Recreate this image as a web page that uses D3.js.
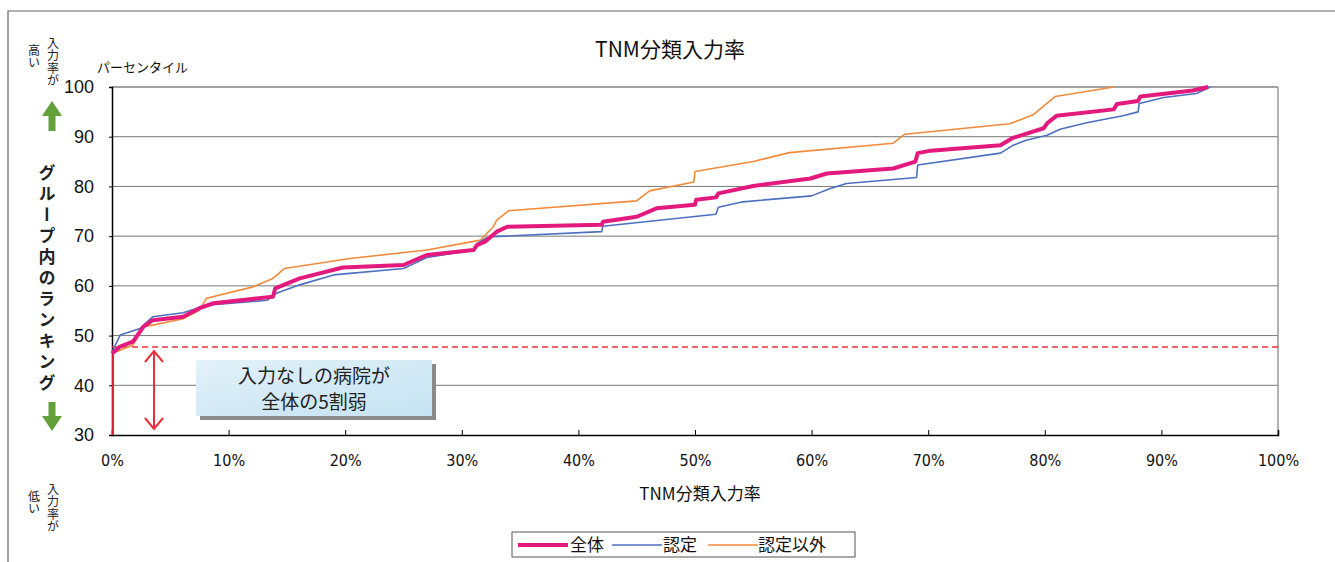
<!DOCTYPE html>
<html><head><meta charset="utf-8">
<script src="https://cdn.jsdelivr.net/npm/d3@7"></script>
<style>
html,body{margin:0;padding:0;background:#fff;}
svg{display:block;font-family:"Noto Sans CJK JP","Liberation Sans",sans-serif;}
</style></head>
<body><svg id="c" width="1335" height="562"></svg>
<script>
// ---- data ----
const seriesNames = ["全体", "認定", "認定以外"];
const allX = [0,0.7,1.8,2.7,3.5,6.1,7.5,8.7,13.8,14,16.1,19.8,25,27,31,31.3,32,33,33.9,42,42.1,45,46.7,50,50.1,51.8,52,55,59.9,61.3,67,68.9,69.1,70.2,76.2,77.2,79.9,80.2,81,85.9,86.2,88,88.2,92.7,94];
const allY = [46.4,47.8,48.8,51.8,53.1,53.8,55.5,56.5,57.8,59.5,61.5,63.7,64.2,66.2,67.2,68.2,68.9,70.9,71.9,72.3,72.9,73.9,75.6,76.3,77.3,77.8,78.6,80.1,81.6,82.6,83.6,85,86.7,87.2,88.3,89.7,91.7,92.7,94.2,95.5,96.6,97.2,98.1,99.3,100];
const ninX = [0,0.7,2.4,3.5,6.1,7.3,8.1,13.3,14.1,16.1,19,25,27,31,31.3,32,32.7,42,42.1,51.8,52,54.1,60,61.6,63,69,69.1,76.2,77.3,78.4,80.2,81.3,83.6,86.7,88,88.1,90.2,93,94.2];
const ninY = [46.7,50.1,51.4,53.8,54.6,55.5,56.1,57.1,58.5,60.2,62.2,63.5,65.7,67.2,68.5,69.5,69.9,70.9,72,74.4,75.8,76.9,78.1,79.6,80.6,81.8,84.3,86.7,88.3,89.3,90.3,91.5,92.8,94.2,95,96.7,97.9,98.7,100];
const othX = [0,1.8,2.7,3.5,6.1,7.5,8.1,12.1,13.8,14.8,20.4,27,31.6,32.7,33,34,45,46.1,49.9,50,55,58.1,67,68,77,79,80.9,85.9];
const othY = [46.4,48.1,51.8,52.1,53.4,55.1,57.5,59.8,61.5,63.5,65.5,67.2,69.2,71.9,73.2,75.1,77.1,79.1,80.9,83,85,86.8,88.7,90.5,92.6,94.4,98.1,100];
const yTicks = [30,40,50,60,70,80,90,100];
const xTicks = [0,10,20,30,40,50,60,70,80,90,100];
const noInputLevel = 47.7;
const seriesColors = ["#e3197e", "#4d6fbf", "#f28a3b"];
const seriesWidths = [4, 1.6, 1.6];

// ---- layout ----
const svg = d3.select("#c");
const L = 112, R = 1278, T = 87, B = 435;
const x = d3.scaleLinear().domain([0,100]).range([L,R]);
const y = d3.scaleLinear().domain([30,100]).range([B,T]);

// outer frame
svg.append("path").attr("d","M8,562 L8,11 L1335,11").attr("fill","none").attr("stroke","#666").attr("stroke-width",1.2);

// gridlines
svg.append("g").selectAll("line").data(yTicks.filter(d=>d>30)).join("line")
  .attr("x1",L).attr("x2",R).attr("y1",d=>y(d)).attr("y2",d=>y(d))
  .attr("stroke","#777").attr("stroke-width",1);
svg.append("line").attr("x1",R).attr("x2",R).attr("y1",T).attr("y2",B).attr("stroke","#999").attr("stroke-width",1.5);
svg.append("line").attr("x1",L).attr("x2",R).attr("y1",T).attr("y2",T).attr("stroke","#999").attr("stroke-width",1.5);

// axes
const yAxis = svg.append("g").attr("transform",`translate(${L},0)`)
  .call(d3.axisLeft(y).tickValues(yTicks).tickSize(3).tickPadding(15).tickFormat(d3.format("d")));
yAxis.select(".domain").attr("stroke","#000").attr("stroke-width",1.5);
yAxis.selectAll("text").attr("font-size",18).attr("font-family","Liberation Sans, Arial, sans-serif").attr("fill","#111");
const xAxis = svg.append("g").attr("transform",`translate(0,${B})`)
  .call(d3.axisBottom(x).tickValues(xTicks).tickSize(-5).tickPadding(20).tickFormat(d=>d+"%"));
xAxis.select(".domain").attr("stroke","#000").attr("stroke-width",1.5);
xAxis.selectAll("text").attr("font-size",16).attr("font-family","DejaVu Sans Condensed, Liberation Sans Narrow, sans-serif").attr("fill","#111");

// annotation: red vertical + dashed line
svg.append("line").attr("x1",x(0)+1).attr("x2",x(0)+1).attr("y1",y(30)).attr("y2",y(46.4)).attr("stroke","#e0203a").attr("stroke-width",2);
svg.append("line").attr("x1",x(0)).attr("x2",R).attr("y1",y(noInputLevel)).attr("y2",y(noInputLevel))
  .attr("stroke","#e8303a").attr("stroke-width",1.6).attr("stroke-dasharray","6,4");

// series lines
const line = d3.line().x(d=>x(d[0])).y(d=>y(d[1]));
const data = [d3.zip(allX,allY), d3.zip(ninX,ninY), d3.zip(othX,othY)];
[2,1,0].forEach(i=>{
  svg.append("path").datum(data[i]).attr("d",line).attr("fill","none")
    .attr("stroke",seriesColors[i]).attr("stroke-width",seriesWidths[i]).attr("stroke-linejoin","round");
});

// double arrow
const defs = svg.append("defs");
const ax = 154, ay1 = y(noInputLevel)+4, ay2 = y(30)-6;
svg.append("line").attr("x1",ax).attr("x2",ax).attr("y1",ay1).attr("y2",ay2).attr("stroke","#e8303a").attr("stroke-width",2);
svg.append("path").attr("d",`M${ax-9},${ay1+11} L${ax},${ay1} L${ax+9},${ay1+11}`).attr("fill","none").attr("stroke","#e8303a").attr("stroke-width",2);
svg.append("path").attr("d",`M${ax-9},${ay2-11} L${ax},${ay2} L${ax+9},${ay2-11}`).attr("fill","none").attr("stroke","#e8303a").attr("stroke-width",2);

// annotation box
const grad = defs.append("linearGradient").attr("id","bg").attr("x1","0").attr("y1","0").attr("x2","1").attr("y2","1");
grad.append("stop").attr("offset","0").attr("stop-color","#e2f1f9");
grad.append("stop").attr("offset","1").attr("stop-color","#c5e3f2");
svg.append("rect").attr("x",200).attr("y",364).attr("width",236).attr("height",56).attr("fill","#8a8a8a");
svg.append("rect").attr("x",196).attr("y",360).attr("width",236).attr("height",56).attr("fill","url(#bg)");
svg.append("text").attr("x",314).attr("y",383).attr("text-anchor","middle").attr("font-size",19).attr("fill","#222").text("入力なしの病院が");
svg.append("text").attr("x",314).attr("y",409).attr("text-anchor","middle").attr("font-size",19).attr("fill","#222").text("全体の5割弱");

// titles
svg.append("text").attr("x",670).attr("y",57).attr("text-anchor","middle").attr("font-size",21).attr("fill","#111").text("TNM分類入力率");
svg.append("text").attr("x",97).attr("y",72).attr("font-size",13).attr("fill","#111").text("パーセンタイル");
svg.append("text").attr("x",700).attr("y",500).attr("text-anchor","middle").attr("font-size",17).attr("fill","#111").text("TNM分類入力率");

// left side vertical labels
function vtext(tx, ty, str, size, weight, spacing){
  return svg.append("text").attr("x",tx).attr("y",ty).attr("font-size",size).attr("font-weight",weight||"normal")
    .attr("fill","#222").style("writing-mode","vertical-rl").style("letter-spacing",(spacing||0)+"px").text(str);
}
vtext(53,37,"入力率が",12,"normal",0.5);
vtext(34,44,"高い",12,"normal",0.5);
vtext(53,483,"入力率が",12,"normal",0.5);
vtext(34,490,"低い",12,"normal",0.5);
vtext(47,164,"グループ内のランキング",17,"bold",4);

// green arrows
const green = "#63a03a";
svg.append("path").attr("d","M52,101 L62,116 L55.5,116 L55.5,131 L48.5,131 L48.5,116 L42,116 Z").attr("fill",green);
svg.append("path").attr("d","M52,431 L62,416 L55.5,416 L55.5,402 L48.5,402 L48.5,416 L42,416 Z").attr("fill",green);

// legend
const lg = svg.append("g");
lg.append("rect").attr("x",512).attr("y",532).attr("width",343).attr("height",25).attr("fill","#fff").attr("stroke","#555").attr("stroke-width",1);
const legItems = [{lx:518, tx:570},{lx:612, tx:663},{lx:708, tx:758}];
legItems.forEach((it,i)=>{
  lg.append("line").attr("x1",it.lx).attr("x2",it.lx+50).attr("y1",545).attr("y2",545).attr("stroke",seriesColors[i]).attr("stroke-width",seriesWidths[i]);
  lg.append("text").attr("x",it.tx).attr("y",551).attr("font-size",17).attr("fill","#111").text(seriesNames[i]);
});
</script></body></html>
